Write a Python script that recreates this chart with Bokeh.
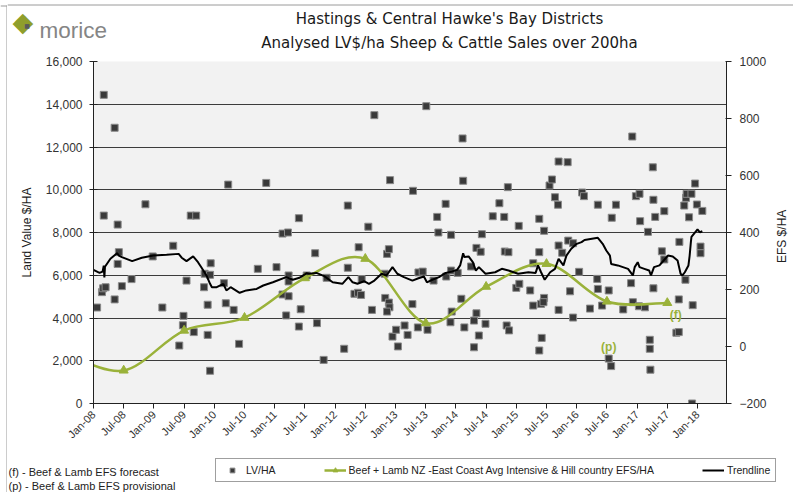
import math
from bokeh.plotting import figure
from bokeh.layouts import column, row
from bokeh.models import (Range1d, LinearAxis, FixedTicker, NumeralTickFormatter,
                          Label, Legend, LegendItem, Span, BoxAnnotation)
from bokeh.embed import file_html
from bokeh.resources import INLINE

# ---------------- data ----------------
tick_years = [2008.0, 2008.5, 2009.0, 2009.5, 2010.0, 2010.5, 2011.0, 2011.5, 2012.0, 2012.5,
              2013.0, 2013.5, 2014.0, 2014.5, 2015.0, 2015.5, 2016.0, 2016.5, 2017.0, 2017.5, 2018.0]
tick_labels = ["Jan-08", "Jul-08", "Jan-09", "Jul-09", "Jan-10", "Jul-10", "Jan-11", "Jul-11",
               "Jan-12", "Jul-12", "Jan-13", "Jul-13", "Jan-14", "Jul-14", "Jan-15", "Jul-15",
               "Jan-16", "Jul-16", "Jan-17", "Jul-17", "Jan-18"]
lv_ticks = [0, 2000, 4000, 6000, 8000, 10000, 12000, 14000, 16000]
efs_ticks = [-200, 0, 200, 400, 600, 800, 1000]

# LV/HA sales (date as decimal year, $/ha)
lv_year = [2008.06, 2008.14, 2008.16, 2008.20, 2008.17, 2008.17, 2008.35, 2008.35, 2008.40, 2008.40,
           2008.42, 2008.47, 2008.63, 2008.86, 2008.98, 2009.14, 2009.32, 2009.42, 2009.48, 2009.49,
           2009.54, 2009.61, 2009.70, 2009.66, 2009.84, 2009.83, 2009.89, 2009.89, 2009.93, 2009.94,
           2009.93, 2010.16, 2010.19, 2010.23, 2010.32, 2010.41, 2010.72, 2010.86, 2011.03, 2011.13,
           2011.22, 2011.13, 2011.19, 2011.23, 2011.23, 2011.23, 2011.40, 2011.43, 2011.40, 2011.53,
           2011.67, 2011.70, 2011.81, 2011.86, 2012.15, 2012.21, 2012.21, 2012.32, 2012.38, 2012.43,
           2012.39, 2012.44, 2012.55, 2012.61, 2012.65, 2012.82, 2012.86, 2012.89, 2012.83, 2012.89,
           2012.90, 2012.86, 2012.91, 2012.95, 2013.01, 2013.04, 2013.15, 2013.20, 2013.28, 2013.29,
           2013.37, 2013.38, 2013.45, 2013.51, 2013.53, 2013.63, 2013.69, 2013.71, 2013.83, 2013.84,
           2013.91, 2013.93, 2013.92, 2013.92, 2014.03, 2014.09, 2014.11, 2014.12, 2014.14, 2014.25,
           2014.34, 2014.41, 2014.30, 2014.34, 2014.38, 2014.30, 2014.43, 2014.49, 2014.61, 2014.72,
           2014.80, 2014.81, 2014.87, 2014.84, 2014.88, 2014.86, 2015.00, 2015.05, 2015.04, 2015.23,
           2015.28, 2015.28, 2015.38, 2015.38, 2015.46, 2015.42, 2015.38, 2015.41, 2015.46, 2015.45,
           2015.55, 2015.59, 2015.64, 2015.69, 2015.70, 2015.85, 2015.70, 2015.76, 2015.86, 2015.94,
           2016.04, 2015.89, 2015.70, 2015.94, 2016.09, 2016.12, 2016.34, 2016.35, 2016.22, 2016.42,
           2016.35, 2016.53, 2016.58, 2016.65, 2016.53, 2016.57, 2016.77, 2016.90, 2016.92, 2016.93,
           2016.98, 2017.04, 2017.05, 2017.03, 2017.13, 2017.18, 2017.21, 2017.21, 2017.22, 2017.26,
           2017.27, 2017.30, 2017.27, 2017.41, 2017.45, 2017.45, 2017.65, 2017.69, 2017.69, 2017.70,
           2017.78, 2017.81, 2017.82, 2017.90, 2017.80, 2017.86, 2017.92, 2017.96, 2017.99, 2018.08,
           2018.05, 2018.05, 2017.91]
lv_value = [4490, 5210, 5390, 5440, 14440, 8790, 12900, 4870, 8370, 6530,
            7080, 5490, 5820, 9320, 6880, 4490, 7380, 2710, 3660, 4100,
            5750, 8790, 8790, 3340, 6070, 5440, 4620, 3210, 1530, 6560,
            6020, 5630, 4690, 10240, 4380, 2790, 6300, 10320, 6380, 7950,
            8000, 5100, 4120, 5990, 5710, 5020, 3600, 4410, 8670, 5990,
            7030, 3760, 2040, 5880, 2560, 6350, 9260, 5130, 5180, 5080,
            7310, 5820, 8270, 4380, 13490, 6070, 7000, 7220, 4940, 4720,
            4500, 4300, 10450, 3130, 3450, 2670, 3650, 3210, 4650, 9950,
            3560, 6130, 6170, 13910, 3450, 5750, 8730, 8000, 9340, 5940,
            3800, 4300, 7890, 6220, 6110, 4900, 12400, 10420, 3560, 6410,
            7280, 7100, 3880, 4220, 3180, 2630, 7920, 3730, 8760, 9370,
            8730, 7110, 7080, 3650, 3420, 10120, 5410, 5600, 8310, 5290,
            4580, 6560, 7080, 8640, 8080, 3070, 2480, 4660, 4940, 4740,
            10200, 10480, 9650, 9300, 11320, 11290, 7390, 7050, 7620, 7500,
            6160, 5250, 4380, 4020, 9870, 9700, 5830, 5360, 4440, 4580,
            9300, 5290, 8690, 9300, 2100, 1750, 4400, 5630, 12490, 4740,
            9700, 9810, 8530, 4550, 4500, 8030, 2980, 2560, 1580, 11050,
            9530, 8730, 5390, 7120, 6740, 9000, 3310, 3340, 4870, 7560,
            9260, 9620, 9810, 9810, 5790, 8710, 4600, 10290, 9310, 9010,
            7340, 7030, 0]

# Trendline
trend_year = [2008.00, 2008.10, 2008.15, 2008.17, 2008.18, 2008.19, 2008.28, 2008.39, 2008.42, 2008.47,
              2008.64, 2008.80, 2008.99, 2009.21, 2009.41, 2009.46, 2009.54, 2009.65, 2009.73, 2009.79,
              2009.87, 2009.93, 2009.96, 2010.04, 2010.15, 2010.20, 2010.27, 2010.42, 2010.53, 2010.70,
              2010.81, 2010.97, 2011.19, 2011.30, 2011.41, 2011.53, 2011.57, 2011.69, 2011.82, 2011.96,
              2012.12, 2012.22, 2012.29, 2012.37, 2012.48, 2012.56, 2012.65, 2012.77, 2012.85, 2012.95,
              2013.03, 2013.14, 2013.28, 2013.38, 2013.47, 2013.52, 2013.61, 2013.72, 2013.83, 2013.93,
              2014.02, 2014.07, 2014.12, 2014.14, 2014.21, 2014.28, 2014.33, 2014.38, 2014.49, 2014.65,
              2014.76, 2014.87, 2015.03, 2015.20, 2015.32, 2015.36, 2015.41, 2015.47, 2015.56, 2015.64,
              2015.70, 2015.78, 2015.83, 2015.91, 2016.00, 2016.08, 2016.13, 2016.35, 2016.43, 2016.49,
              2016.55, 2016.57, 2016.68, 2016.85, 2016.93, 2016.96, 2017.01, 2017.04, 2017.12, 2017.20,
              2017.23, 2017.28, 2017.37, 2017.44, 2017.51, 2017.59, 2017.67, 2017.72, 2017.75, 2017.79,
              2017.85, 2017.87, 2017.89, 2017.90, 2017.95, 2018.00, 2018.04, 2018.08]
trend_value = [6250, 6110, 6170, 6450, 5900, 6400, 6770, 7030, 6920, 6850,
               6660, 6820, 6920, 6960, 7000, 6820, 6660, 6880, 6610, 6350,
               5990, 5600, 5440, 5440, 5600, 5290, 5440, 5180, 5290, 5360,
               5520, 5670, 5910, 5790, 5880, 6100, 6070, 6110, 5960, 5670,
               5600, 5910, 5670, 5600, 5720, 5600, 5750, 6070, 5990, 6380,
               6070, 5910, 5750, 5860, 5940, 5670, 5790, 5910, 6110, 6170,
               6250, 6460, 7030, 6850, 6880, 6610, 6220, 6380, 6070, 6140,
               6300, 6220, 6070, 6140, 6110, 6460, 6140, 5790, 6140, 6300,
               6770, 6460, 6920, 7240, 7470, 7550, 7650, 7750, 7470, 7160,
               6920, 6530, 6460, 6300, 5990, 6380, 6610, 6380, 6300, 6220,
               5990, 6380, 6460, 6690, 6920, 6880, 6690, 6070, 5990, 6140,
               6460, 6920, 7550, 7790, 7970, 8140, 8010, 8060]

# Beef + Lamb NZ East Coast EFS $/ha (yearly, July)
efs_year = [2007.5, 2008.5, 2009.5, 2010.5, 2011.5, 2012.5, 2013.5, 2014.5, 2015.5, 2016.5, 2017.5]
efs_value = [-20, -84, 56, 101, 240, 308, 82, 210, 290, 158, 153]

# ---------------- styling / layout ----------------
GREEN = "#9ab23a"
FONT = "Liberation Sans"
BORDER = "#9a9a9a"
W_TOTAL, H_TOTAL = 793, 492
W_STRIP = 7
W_SIDE = 24
W_INNER = W_TOTAL - W_STRIP
W_MAIN = W_INNER - W_SIDE
H_HEAD, H_MAIN, H_FOOT = 51, 397, 44


def blank(w, h, x0=0):
    f = figure(width=w, height=h, output_backend="svg", toolbar_location=None,
               x_range=Range1d(x0, x0 + w), y_range=Range1d(0, h),
               x_axis_location=None, y_axis_location=None,
               min_border=0, border_fill_color="white", background_fill_color="white")
    f.outline_line_color = None
    f.grid.visible = False
    return f


# ---------------- left strip with the chart-area border ----------------
strip = blank(W_STRIP, H_TOTAL)
strip.add_layout(BoxAnnotation(left=6, right=7, bottom=0, top=487, fill_color=BORDER,
                               fill_alpha=1, line_color=None))
strip.add_layout(BoxAnnotation(left=0, right=7, bottom=486, top=487, fill_color=BORDER,
                               fill_alpha=1, line_color=None))

# ---------------- header ----------------
head = blank(W_INNER, H_HEAD, x0=W_STRIP)
head.add_layout(Span(location=46.5, dimension="width", line_color=BORDER, line_width=1))
head.add_layout(Label(x=449, y=33, text="Hastings & Central Hawke's Bay Districts",
                      text_align="center", text_baseline="middle", text_font="DejaVu Sans",
                      text_font_size="15px", text_color="#1a1a1a"))
head.add_layout(Label(x=449, y=9, text="Analysed LV$/ha Sheep & Cattle Sales over 200ha",
                      text_align="center", text_baseline="middle", text_font="DejaVu Sans",
                      text_font_size="15px", text_color="#1a1a1a"))
head.add_layout(Label(x=22.5, y=30, text="\u25c6", text_align="center",
                      text_baseline="middle", text_font="DejaVu Sans", text_font_size="27px",
                      text_color="#8f9e2c"))
head.add_layout(Label(x=26.5, y=26, text="\u25a0", text_align="center",
                      text_baseline="middle", text_font="DejaVu Sans", text_font_size="6px",
                      text_color="#5a5a5a"))
head.add_layout(Label(x=39, y=21.5, text="morice", text_align="left",
                      text_baseline="alphabetic", text_font=FONT, text_font_size="22.5px",
                      text_color="#858585"))

# ---------------- main chart ----------------
p = figure(width=W_MAIN, height=H_MAIN, output_backend="svg", toolbar_location=None,
           x_range=Range1d(2008.0, 2018.48), y_range=Range1d(0, 16000),
           min_border_left=93 - W_STRIP, min_border_right=40, min_border_top=10,
           min_border_bottom=45, background_fill_color="#f2f2f2", border_fill_color="white")
p.outline_line_color = None
p.extra_y_ranges = {"efs": Range1d(-200, 1000)}

xa = p.xaxis[0]
xa.ticker = FixedTicker(ticks=tick_years)
xa.major_label_overrides = {t: l for t, l in zip(tick_years, tick_labels)}
xa.major_label_orientation = math.pi / 4
xa.major_label_text_font = FONT
xa.major_label_text_font_size = "11px"
xa.major_label_text_color = "#333333"
xa.axis_line_color = "#222222"
xa.major_tick_line_color = "#222222"
xa.major_tick_in = 0
xa.major_tick_out = 5
xa.minor_tick_line_color = None
xa.major_label_standoff = 4

ya = p.yaxis[0]
ya.ticker = FixedTicker(ticks=lv_ticks)
ya.formatter = NumeralTickFormatter(format="0,0")
ya.major_label_text_font = FONT
ya.major_label_text_font_size = "12px"
ya.major_label_text_color = "#333333"
ya.axis_line_color = "#222222"
ya.major_tick_line_color = "#222222"
ya.major_tick_in = 4
ya.major_tick_out = 4
ya.minor_tick_line_color = None
ya.major_label_standoff = 7
ya.axis_label = "Land Value $/HA"
ya.axis_label_text_font = FONT
ya.axis_label_text_font_size = "12px"
ya.axis_label_text_font_style = "normal"
ya.axis_label_text_color = "#222222"
ya.axis_label_standoff = 9

ra = LinearAxis(y_range_name="efs", ticker=FixedTicker(ticks=efs_ticks))
ra.major_label_text_font = FONT
ra.major_label_text_font_size = "12px"
ra.major_label_text_color = "#333333"
ra.axis_line_color = "#222222"
ra.major_tick_line_color = "#222222"
ra.major_tick_in = 1
ra.major_tick_out = 5
ra.minor_tick_line_color = None
ra.major_label_standoff = 8
p.add_layout(ra, "right")

p.xgrid.visible = False
p.ygrid.ticker = FixedTicker(ticks=lv_ticks)
p.ygrid.grid_line_color = "#3c3c3c"
p.ygrid.grid_line_width = 1

p.scatter(lv_year, lv_value, marker="square", size=7,
          fill_color="#3a3a3a", line_color="#8a8a8a", line_width=1)

# smoothed EFS curve (Bezier segments built from the yearly points)
n = len(efs_year)
bx0, by0, bx1, by1, bcx0, bcy0, bcx1, bcy1 = [], [], [], [], [], [], [], []
for i in range(n - 1):
    im, ip = max(i - 1, 0), min(i + 2, n - 1)
    bx0.append(efs_year[i]); by0.append(efs_value[i])
    bx1.append(efs_year[i + 1]); by1.append(efs_value[i + 1])
    bcx0.append(efs_year[i] + (efs_year[i + 1] - efs_year[im]) / 6.0)
    bcy0.append(efs_value[i] + (efs_value[i + 1] - efs_value[im]) / 6.0)
    bcx1.append(efs_year[i + 1] - (efs_year[ip] - efs_year[i]) / 6.0)
    bcy1.append(efs_value[i + 1] - (efs_value[ip] - efs_value[i]) / 6.0)
p.bezier(x0=bx0, y0=by0, x1=bx1, y1=by1, cx0=bcx0, cy0=bcy0, cx1=bcx1, cy1=bcy1,
         line_color=GREEN, line_width=2.5, y_range_name="efs")
p.scatter(efs_year, efs_value, marker="triangle", size=9, fill_color=GREEN,
          line_color=GREEN, y_range_name="efs")

p.line(trend_year, trend_value, line_color="black", line_width=2)

p.add_layout(Label(x=2016.53, y=0, y_range_name="efs", text="(p)", text_align="center",
                   text_baseline="middle", text_font=FONT, text_font_size="12px",
                   text_font_style="bold", text_color=GREEN))
p.add_layout(Label(x=2017.64, y=112, y_range_name="efs", text="(f)", text_align="center",
                   text_baseline="middle", text_font=FONT, text_font_size="12px",
                   text_font_style="bold", text_color=GREEN))

# right axis title in a narrow side panel
side = blank(W_SIDE, H_MAIN)
side.add_layout(Label(x=12, y=194, text="EFS $/HA", angle=math.pi / 2,
                      text_align="center", text_baseline="middle", text_font=FONT,
                      text_font_size="12px", text_color="#222222"))

# ---------------- footer: legend + footnotes ----------------
foot = blank(W_INNER, H_FOOT, x0=W_STRIP)
# legend proxies: real data values, which lie far outside this panel's pixel range
lg_sq = foot.scatter(x=lv_year[:1], y=lv_value[:1], marker="square", size=7,
                     fill_color="#3a3a3a", line_color="#8a8a8a", line_width=1)
lg_gl = foot.line(x=efs_year[:2], y=[v + 5000 for v in efs_value[:2]], line_color=GREEN, line_width=2.5)
lg_gt = foot.scatter(x=efs_year[:1], y=efs_value[:1], marker="triangle", size=9,
                     fill_color=GREEN, line_color=GREEN)
lg_tr = foot.line(x=trend_year[:2], y=trend_value[:2], line_color="black", line_width=2)

legend = Legend(items=[
    LegendItem(label="LV/HA", renderers=[lg_sq]),
    LegendItem(label="Beef + Lamb NZ -East Coast Avg Intensive & Hill country EFS/HA",
               renderers=[lg_gl, lg_gt]),
    LegendItem(label="Trendline", renderers=[lg_tr]),
], orientation="horizontal", location=(215 - W_STRIP, 10))
legend.label_text_font = FONT
legend.label_text_font_size = "10.5px"
legend.label_text_color = "#222222"
legend.border_line_color = "#404040"
legend.border_line_width = 1
legend.background_fill_color = "white"
legend.background_fill_alpha = 1
legend.padding = 5
legend.margin = 0
legend.spacing = 48
legend.glyph_width = 22
legend.glyph_height = 12
legend.label_standoff = 3
legend.label_height = 12
foot.add_layout(legend)

foot.add_layout(Label(x=8, y=21, text="(f) -  Beef & Lamb EFS forecast",
                      text_align="left", text_baseline="middle", text_font=FONT,
                      text_font_size="11px", text_color="#222222"))
foot.add_layout(Label(x=8, y=7, text="(p) -  Beef & Lamb EFS provisional",
                      text_align="left", text_baseline="middle", text_font=FONT,
                      text_font_size="11px", text_color="#222222"))

inner = column(head, row(p, side, spacing=0), foot, spacing=0)
layout = row(strip, inner, spacing=0)
open("out.html", "w").write(file_html(layout, INLINE))
